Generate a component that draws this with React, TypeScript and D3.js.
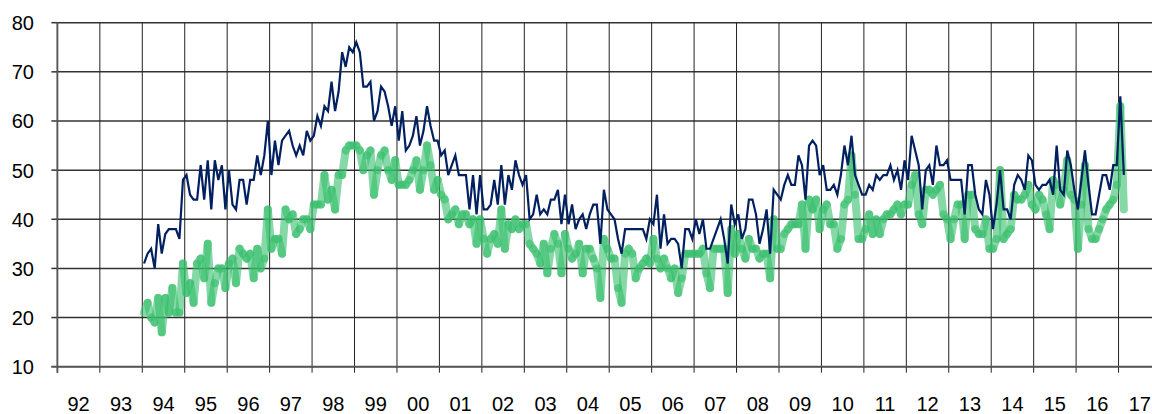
import React from 'react';
import * as d3 from 'd3';

// months are counted from Jan 1992; both series start Jan 1994
const firstMonth = 24;
const yearLabels = ['92', '93', '94', '95', '96', '97', '98', '99', '00', '01', '02', '03', '04',
  '05', '06', '07', '08', '09', '10', '11', '12', '13', '14', '15', '16', '17'];
const yTicks = [10, 20, 30, 40, 50, 60, 70, 80];

const navySeries = [
  31, 33, 34, 30, 39, 33, 37, 38, 38, 38, 36, 48,
  49, 45, 44, 44, 51, 44, 52, 42, 52, 48, 51, 42,
  50, 43, 42, 48, 48, 43, 48, 48, 53, 49, 53, 60,
  49, 56, 51, 56, 57, 58, 55, 53, 55, 53, 58, 56,
  57, 61, 59, 63, 62, 68, 62, 66, 74, 71, 75, 74,
  76, 74, 67, 67, 68, 60, 62, 67, 66, 63, 59, 63,
  56, 62, 54, 55, 57, 61, 55, 58, 63, 59, 56, 56,
  53, 54, 49, 51, 53, 49, 49, 49, 42, 49, 41, 49,
  42, 42, 43, 48, 43, 51, 43, 49, 46, 52, 49, 47,
  49, 40, 41, 45, 41, 42, 41, 44, 44, 46, 39, 45,
  39, 43, 38, 40, 41, 38, 41, 43, 43, 35, 46, 42,
  41, 40, 36, 33, 38, 38, 38, 38, 38, 38, 36, 40,
  39, 45, 34, 41, 35, 36, 36, 35, 30, 38, 38, 36,
  40, 37, 40, 34, 34, 36, 38, 40, 36, 31, 43, 39,
  41, 36, 38, 44, 44, 41, 35, 38, 42, 33, 46, 45,
  44, 47, 49, 47, 47, 53, 51, 44, 55, 56, 55, 49,
  51, 46, 46, 47, 45, 49, 55, 51, 57, 49, 47, 45,
  45, 47, 46, 49, 48, 49, 49, 51, 48, 50, 46, 52,
  48, 57, 54, 51, 42, 50, 51, 47, 55, 51, 51, 52,
  48, 48, 48, 48, 41, 51, 51, 45, 42, 41, 48, 45,
  38, 43, 50, 42, 42, 40, 47, 49, 48, 46, 53, 52,
  47, 46, 47, 47, 48, 45, 55, 46, 45, 54, 51, 46,
  42, 48, 54, 47, 41, 41, 45, 49, 49, 46, 51, 51,
  65, 49,
];

const greenSeries = [
  21, 23, 20, 19, 24, 17, 24, 21, 26, 21, 21, 31,
  25, 27, 23, 31, 32, 28, 35, 23, 27, 30, 30, 26,
  31, 32, 27, 34, 33, 32, 33, 28, 34, 30, 32, 42,
  34, 36, 36, 33, 42, 40, 41, 37, 38, 40, 40, 38,
  43, 43, 43, 49, 44, 46, 42, 49, 49, 54, 55, 55,
  55, 54, 50, 53, 54, 45, 50, 53, 54, 50, 48, 52,
  47, 47, 47, 48, 50, 52, 46, 50, 55, 51, 46, 48,
  45, 44, 40, 41, 42, 39, 41, 41, 39, 40, 35, 40,
  36, 33, 36, 37, 35, 42, 34, 39, 38, 40, 38, 39,
  39, 35, 34, 33, 31, 35, 29, 34, 37, 35, 29, 37,
  34, 32, 33, 35, 29, 34, 34, 32, 30, 24, 36, 34,
  32, 32, 26, 23, 33, 34, 33, 28, 30, 31, 32, 31,
  36, 32, 30, 32, 30, 28, 30, 25, 28, 33, 33, 33,
  33, 33, 34, 29, 26, 34, 34, 34, 34, 25, 38, 33,
  37, 34, 32, 36, 34, 34, 32, 33, 33, 28, 40, 34,
  34, 37, 38, 39, 39, 39, 43, 34, 44, 42, 44, 38,
  42, 43, 39, 39, 34, 36, 43, 44, 53, 45, 36, 36,
  38, 41, 37, 40, 37, 40, 41, 41, 42, 43, 41, 43,
  43, 47, 49, 41, 39, 46, 46, 45, 46, 47, 41, 40,
  36, 40, 43, 43, 36, 45, 45, 38, 37, 37, 40, 34,
  34, 36, 50, 36, 37, 38, 45, 44, 44, 45, 47, 43,
  42, 45, 44, 41, 38, 48, 47, 43, 46, 52, 45, 44,
  34, 43, 51, 38, 36, 36, 38, 40, 42, 43, 44, 47,
  63, 42,
];

const width = 1152;
const height = 414;
const fontFamily = '"Liberation Sans", Arial, sans-serif';

export default function App() {
  const x = d3.scaleLinear().domain([0, yearLabels.length * 12]).range([57.4, 1161]);
  const y = d3.scaleLinear().domain([10, 80]).range([366.7, 22.7]);
  const xm = (i: number) => x(firstMonth + i + 0.5);

  const navyLine = d3.line<number>()
    .x((_, i) => xm(i))
    .y(d => y(d));

  const greenSegs = d3.pairs(greenSeries.map((v, i) => [xm(i), y(v)] as [number, number]));
  const yearTicks = d3.range(yearLabels.length + 1).map(k => k * 12);

  return (
    <svg width={width} height={height}
      style={{ position: 'absolute', left: 0, top: 0, background: '#fff' }}>
      {/* horizontal grid */}
      {yTicks.map(t => (
        <line key={'h' + t} x1={x(0)} x2={width} y1={y(t)} y2={y(t)}
          stroke="#333" strokeWidth={1.5} />
      ))}
      {/* vertical grid + ticks */}
      {yearTicks.map(m => (
        <line key={'v' + m} x1={x(m)} x2={x(m)} y1={y(80)} y2={y(10) + 6}
          stroke="#222" strokeWidth={1} />
      ))}
      {yTicks.map(t => (
        <line key={'yt' + t} x1={x(0) - 6} x2={x(0)} y1={y(t)} y2={y(t)}
          stroke="#333" strokeWidth={1.5} />
      ))}
      <line x1={x(0)} x2={x(0)} y1={y(80)} y2={y(10) + 6} stroke="#555" strokeWidth={1.8} />
      <line x1={x(0) - 6} x2={width} y1={y(10)} y2={y(10)} stroke="#555" strokeWidth={1.8} />

      {/* green series: separate semi-transparent segments so joints darken */}
      <g stroke="#35be6b" strokeOpacity={0.6} strokeWidth={8} strokeLinecap="round">
        {greenSegs.map(([a, b], i) => (
          <line key={'g' + i} x1={a[0]} y1={a[1]} x2={b[0]} y2={b[1]} />
        ))}
      </g>

      <path d={navyLine(navySeries) || ''} fill="none" stroke="#002060" strokeWidth={2.2}
        strokeLinejoin="miter" />

      {/* labels */}
      {yTicks.map(t => (
        <text key={'yl' + t} x={34} y={y(t) + 7.5} textAnchor="end"
          fontFamily={fontFamily} fontSize={20} fill="#000">{t}</text>
      ))}
      {yearLabels.map((lab, k) => (
        <text key={'xl' + lab} x={x(k * 12 + 6)} y={410.5} textAnchor="middle"
          fontFamily={fontFamily} fontSize={20} fill="#000">{lab}</text>
      ))}
    </svg>
  );
}
